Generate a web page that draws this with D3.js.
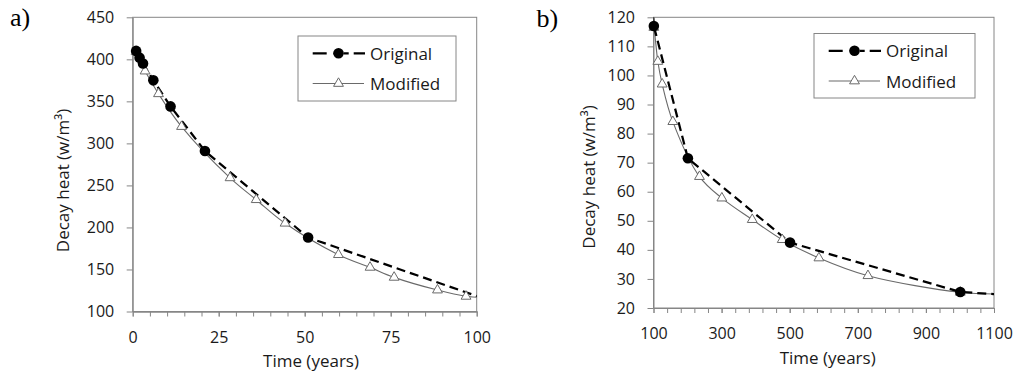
<!DOCTYPE html>
<html>
<head>
<meta charset="utf-8">
<script src="https://cdn.jsdelivr.net/npm/d3@7.9.0/dist/d3.min.js"></script>
<style>
  body { margin: 0; background: #fff; }
  svg { display: block; font-family: "Open Sans", sans-serif; }
</style>
</head>
<body>
<div id="chart"></div>
<script>
// Same two series shown over two time ranges (a: 0-100 y, b: 100-1100 y)
const origTime = [1, 2, 3, 6, 11, 21, 51, 101, 201, 501, 1001, 1101];
const origHeat = [410, 402, 395, 375, 344, 291, 188, 117, 71.5, 42.5, 25.5, 24.8];

const modTime = [1, 3.6, 7.5, 14.2, 28.3, 35.9, 44.3, 59.8, 69, 76, 88.6, 96.9,
  101, 112.7, 125.5, 156.8, 235, 300.8, 390, 478, 585.8, 729.8, 1001, 1101];
const modHeat = [409, 386, 359, 320, 259, 233, 205, 167.6, 152.5, 140.6, 125.5, 118,
  116.5, 104.8, 97, 84.1, 65.2, 57.8, 50.4, 43.5, 37.2, 31.1, 25.4, 24.8];

const seriesNames = ["Original", "Modified"];
const panelLabels = ["a)", "b)"];

const leftXTicks = [0, 25, 50, 75, 100];
const leftYTicks = [100, 150, 200, 250, 300, 350, 400, 450];
const rightXTicks = [100, 300, 500, 700, 900, 1100];
const rightYTicks = [20, 30, 40, 50, 60, 70, 80, 90, 100, 110, 120];

const width = 1021;
const height = 381;
const axisColor = "#868686";
const modColor = "#6a6a6a";

const original = origTime.map((t, i) => ({ t, v: origHeat[i] }));
const modified = modTime.map((t, i) => ({ t, v: modHeat[i] }));

const svg = d3.select("#chart")
  .append("svg")
  .attr("width", width)
  .attr("height", height);

const panels = [
  {
    id: "a", label: panelLabels[0], labelX: 10, labelY: 26,
    left: 132.7, right: 476.7, bottom: 311.5, top: 17.3,
    xDomain: [0, 100], yDomain: [100, 450],
    xTicks: leftXTicks, xMinor: 5, yTicks: leftYTicks,
    xLabelY: 31.8, xTitleX: 311, xTitleY: 366.5,
    yTitleX: 69.3, yTitleY: 180.5,
    legend: { x: 298, y: 36, w: 158, h: 65 }
  },
  {
    id: "b", label: panelLabels[1], labelX: 536.5, labelY: 26.7,
    left: 653.5, right: 994, bottom: 308, top: 17.3,
    xDomain: [100, 1100], yDomain: [20, 120],
    xTicks: rightXTicks, xMinor: 40, yTicks: rightYTicks,
    xLabelY: 31.3, xTitleX: 827.7, xTitleY: 363.5,
    yTitleX: 594.5, yTitleY: 177,
    legend: { x: 814, y: 33.5, w: 161, h: 64.5 }
  }
];

panels.forEach(drawPanel);

function drawPanel(p) {
  const g = svg.append("g");

  const x = d3.scaleLinear().domain(p.xDomain).range([p.left, p.right]);
  const y = d3.scaleLinear().domain(p.yDomain).range([p.bottom, p.top]);

  // plot area frame
  g.append("rect")
    .attr("x", p.left)
    .attr("y", p.top)
    .attr("width", p.right - p.left)
    .attr("height", p.bottom - p.top)
    .attr("fill", "none")
    .attr("stroke", axisColor);

  // minor ticks on the time axis
  const minor = d3.range(p.xDomain[0], p.xDomain[1] + 0.001, p.xMinor);
  g.append("g")
    .attr("transform", `translate(0, ${p.bottom})`)
    .call(d3.axisBottom(x).tickValues(minor).tickSize(5).tickSizeOuter(0).tickFormat(""))
    .call(s => s.selectAll("path, line").attr("stroke", axisColor));

  const xAxis = g.append("g")
    .attr("transform", `translate(0, ${p.bottom})`)
    .call(d3.axisBottom(x).tickValues(p.xTicks).tickSize(5).tickSizeOuter(0).tickFormat(d3.format("d")));
  xAxis.selectAll("path, line").attr("stroke", axisColor);
  xAxis.selectAll("text")
    .attr("y", p.xLabelY)
    .attr("dy", 0)
    .attr("fill", "#1a1a1a")
    .style("font-size", "16px")
    .style("font-family", "'Open Sans', sans-serif");

  const yAxis = g.append("g")
    .attr("transform", `translate(${p.left}, 0)`)
    .call(d3.axisLeft(y).tickValues(p.yTicks).tickSize(6).tickSizeOuter(0).tickPadding(12.5).tickFormat(d3.format("d")));
  yAxis.selectAll("path, line").attr("stroke", axisColor);
  yAxis.selectAll("text")
    .attr("fill", "#1a1a1a")
    .style("font-size", "16px")
    .style("font-family", "'Open Sans', sans-serif");

  // clip the lines to the plot area
  const clipId = "clip-" + p.id;
  g.append("clipPath")
    .attr("id", clipId)
    .append("rect")
    .attr("x", p.left)
    .attr("y", p.top)
    .attr("width", p.right - p.left)
    .attr("height", p.bottom - p.top);

  const inRange = d => d.t >= p.xDomain[0] && d.t <= p.xDomain[1];

  const modLine = d3.line()
    .x(d => x(d.t))
    .y(d => y(d.v))
    .curve(d3.curveCatmullRom.alpha(0.5));

  const origLine = d3.line()
    .x(d => x(d.t))
    .y(d => y(d.v));

  g.append("path")
    .datum(modified)
    .attr("clip-path", `url(#${clipId})`)
    .attr("fill", "none")
    .attr("stroke", modColor)
    .attr("stroke-width", 1.1)
    .attr("d", modLine);

  g.append("path")
    .datum(original)
    .attr("clip-path", `url(#${clipId})`)
    .attr("fill", "none")
    .attr("stroke", "#000")
    .attr("stroke-width", 2.25)
    .attr("stroke-dasharray", "9,5")
    .attr("d", origLine);

  const tri = d3.symbol(d3.symbolTriangle, 42);

  g.selectAll(".tri")
    .data(modified.filter(inRange))
    .join("path")
    .attr("class", "tri")
    .attr("transform", d => `translate(${x(d.t)}, ${y(d.v)})`)
    .attr("d", tri)
    .attr("fill", "#fff")
    .attr("stroke", modColor)
    .attr("stroke-width", 1);

  g.selectAll(".dot")
    .data(original.filter(inRange))
    .join("circle")
    .attr("class", "dot")
    .attr("cx", d => x(d.t))
    .attr("cy", d => y(d.v))
    .attr("r", 5.3)
    .attr("fill", "#000");

  // axis titles
  g.append("text")
    .attr("x", p.xTitleX)
    .attr("y", p.xTitleY)
    .attr("text-anchor", "middle")
    .attr("fill", "#1a1a1a")
    .style("font-size", "17px")
    .text("Time (years)");

  g.append("text")
    .attr("transform", `translate(${p.yTitleX}, ${p.yTitleY}) rotate(-90)`)
    .attr("text-anchor", "middle")
    .attr("fill", "#1a1a1a")
    .style("font-size", "17px")
    .text("Decay heat (w/m³)");

  // panel letter
  g.append("text")
    .attr("x", p.labelX)
    .attr("y", p.labelY)
    .attr("fill", "#000")
    .style("font-family", "'Liberation Serif', serif")
    .style("font-size", "26px")
    .text(p.label);

  drawLegend(g, p.legend);
}

function drawLegend(g, box) {
  const lg = g.append("g").attr("transform", `translate(${box.x}, ${box.y})`);

  lg.append("rect")
    .attr("width", box.w)
    .attr("height", box.h)
    .attr("fill", "#fff")
    .attr("stroke", axisColor);

  const rows = [
    { name: seriesNames[0], cy: 17.3, base: 23.5 },
    { name: seriesNames[1], cy: 47.5, base: 54 }
  ];

  // Original sample
  lg.append("line")
    .attr("x1", 14.7).attr("x2", 67)
    .attr("y1", rows[0].cy).attr("y2", rows[0].cy)
    .attr("stroke", "#000")
    .attr("stroke-width", 2.25)
    .attr("stroke-dasharray", "14,7,5,5,5,5");
  lg.append("circle")
    .attr("cx", 40.5)
    .attr("cy", rows[0].cy)
    .attr("r", 5.3)
    .attr("fill", "#000");

  // Modified sample
  lg.append("line")
    .attr("x1", 14.7).attr("x2", 66)
    .attr("y1", rows[1].cy).attr("y2", rows[1].cy)
    .attr("stroke", modColor)
    .attr("stroke-width", 1.1);
  lg.append("path")
    .attr("transform", `translate(40.5, ${rows[1].cy})`)
    .attr("d", d3.symbol(d3.symbolTriangle, 42))
    .attr("fill", "#fff")
    .attr("stroke", modColor);

  lg.selectAll(".legend-text")
    .data(rows)
    .join("text")
    .attr("class", "legend-text")
    .attr("x", 72)
    .attr("y", d => d.base)
    .attr("fill", "#1a1a1a")
    .style("font-size", "17px")
    .text(d => d.name);
}
</script>
</body>
</html>
